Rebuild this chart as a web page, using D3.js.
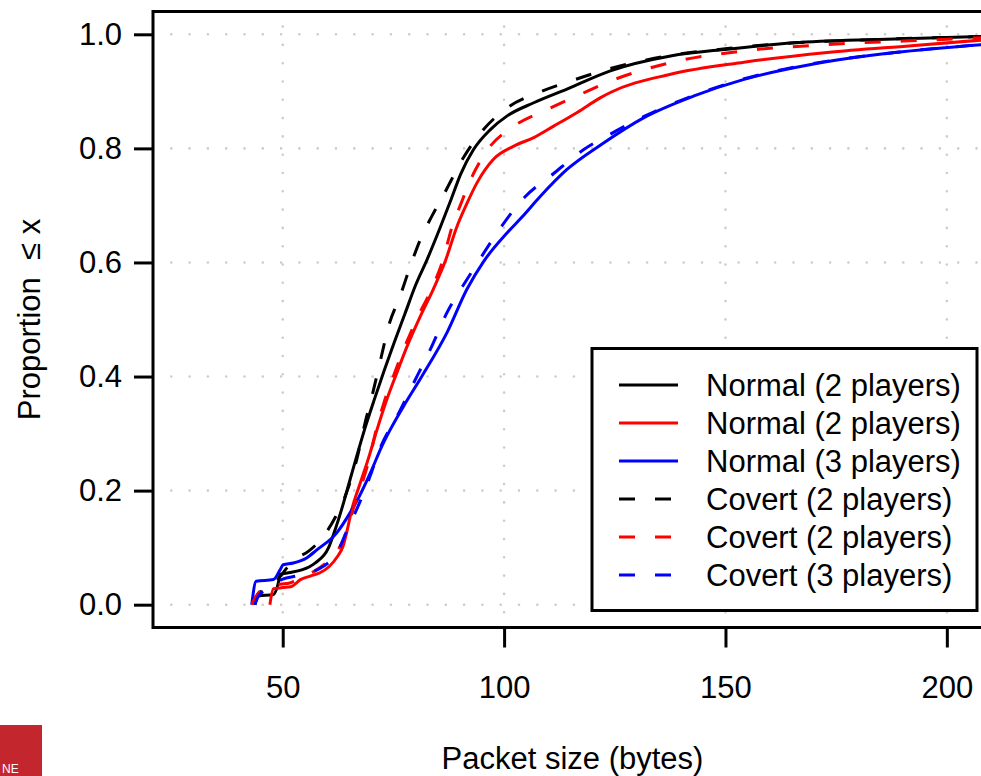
<!DOCTYPE html>
<html>
<head>
<meta charset="utf-8">
<script src="https://cdn.jsdelivr.net/npm/d3@7"></script>
<style>
  html, body { margin: 0; padding: 0; background: #fff; }
  svg { display: block; }
  text { font-family: "Liberation Sans", Arial, Helvetica, sans-serif; }
</style>
</head>
<body>
<svg id="chart" width="981" height="776"></svg>
<script>
// ---- data: [packet size (bytes), proportion <= x] ----
const normal2Black = [[43.7,0],[44.5,0.015],[47.9,0.018],[49,0.038],[49.4,0.053],[51.3,0.056],[54.3,0.061],[57.3,0.073],[60.3,0.099],[61.6,0.126],[63.3,0.167],[65.2,0.219],[66.7,0.26],[68.6,0.31],[70.7,0.36],[72.9,0.41],[75.2,0.46],[77.6,0.51],[80.0,0.56],[82.6,0.605],[85.5,0.66],[88.0,0.71],[90.2,0.755],[93.1,0.798],[96.9,0.833],[100.7,0.857],[106.7,0.88],[114.2,0.904],[124,0.936],[137.6,0.962],[150.4,0.974],[165.5,0.985],[184.4,0.991],[208,0.996]];
const normal2Red = [[47.1,0],[47.9,0.028],[50,0.03],[52,0.032],[54,0.044],[56.2,0.05],[58.4,0.056],[60.5,0.067],[62.4,0.085],[63.6,0.102],[64.6,0.132],[65.6,0.167],[67.5,0.213],[69.5,0.26],[71.3,0.307],[73.3,0.355],[75.7,0.405],[78.2,0.455],[81.1,0.506],[84.0,0.553],[86.7,0.602],[89.4,0.664],[91.4,0.7],[93.9,0.74],[97.6,0.781],[102.2,0.804],[106.7,0.819],[111.2,0.839],[116.5,0.863],[121.8,0.889],[124,0.898],[137.6,0.93],[154.2,0.951],[173,0.968],[192,0.98],[208,0.99]];
const normal3Blue = [[43,0],[44,0.041],[47.9,0.044],[49.4,0.061],[50.1,0.07],[52.4,0.073],[55.4,0.082],[57.7,0.096],[62.2,0.126],[65.2,0.161],[67.3,0.19],[69.8,0.231],[72.4,0.278],[74.5,0.31],[77.3,0.348],[81.4,0.4],[87.1,0.477],[91.6,0.553],[95.4,0.602],[100.7,0.652],[104.1,0.68],[108.2,0.716],[114.2,0.763],[121.8,0.806],[131.6,0.854],[142.9,0.892],[154.2,0.921],[169.3,0.947],[188.2,0.968],[208,0.982]];
const covert2Black = [[43.7,0],[44.5,0.02],[47.5,0.03],[49,0.045],[51,0.065],[52.8,0.08],[55.7,0.093],[59.2,0.12],[62,0.155],[64.1,0.19],[66.7,0.254],[68.6,0.319],[70.3,0.37],[72.3,0.436],[73.9,0.488],[76.5,0.541],[79.2,0.602],[81.4,0.646],[83.6,0.68],[86.3,0.718],[90.9,0.785],[95,0.83],[100.7,0.871],[107.8,0.898],[115,0.918],[124,0.94],[137.6,0.963],[150.4,0.975],[165.5,0.985],[184.4,0.991],[208,0.996]];
const covert2Red = [[43,0],[44,0.015],[46,0.03],[49.4,0.036],[51.6,0.038],[54,0.046],[57,0.058],[60,0.075],[62.5,0.096],[64.5,0.13],[66,0.17],[68,0.215],[69.7,0.26],[71.1,0.307],[72.9,0.355],[75.2,0.405],[77.7,0.455],[80.6,0.506],[83.6,0.553],[86.1,0.602],[88.3,0.664],[90.1,0.7],[93.1,0.756],[96.5,0.8],[102.2,0.839],[109.7,0.868],[117.3,0.895],[124,0.918],[139.1,0.953],[154.2,0.971],[173,0.982],[195.7,0.99],[208,0.994]];
const covert3Blue = [[43.7,0],[44.5,0.015],[46,0.025],[48,0.035],[50,0.045],[53,0.05],[56.2,0.056],[59.1,0.067],[61.2,0.08],[62.6,0.096],[64.5,0.13],[66.7,0.167],[68.5,0.2],[70,0.231],[72.2,0.278],[75.8,0.33],[79.2,0.383],[83.3,0.447],[87.1,0.512],[91.6,0.57],[94.2,0.602],[99.5,0.664],[104.1,0.71],[111.2,0.756],[118,0.798],[123.3,0.822],[131.6,0.856],[142.9,0.893],[154.2,0.922],[169.3,0.948],[188.2,0.968],[208,0.982]];

const seriesData = [normal2Black, normal2Red, normal3Blue, covert2Black, covert2Red, covert3Blue];
const seriesLabels = ["Normal (2 players)", "Normal (2 players)", "Normal (3 players)", "Covert (2 players)", "Covert (2 players)", "Covert (3 players)"];
const seriesColors = ["#000000", "#ff0000", "#0000ff", "#000000", "#ff0000", "#0000ff"];
const seriesDashed = [false, false, false, true, true, true];

const xTicks = [50, 100, 150, 200];
const yTicks = [0, 0.2, 0.4, 0.6, 0.8, 1.0];
const xTitle = "Packet size (bytes)";
const yTitle = "Proportion  \u2264 x";

// ---- layout ----
const svg = d3.select("#chart");
const plot = { left: 153, right: 992, top: 11.5, bottom: 627.5 };
const FONT = 31;

const x = d3.scaleLinear().domain([20.7, 210.2]).range([plot.left, plot.right]);
const y = d3.scaleLinear().domain([-0.04, 1.04]).range([plot.bottom, plot.top]);

// clip
svg.append("defs").append("clipPath").attr("id", "clip")
  .append("rect").attr("x", plot.left).attr("y", plot.top)
  .attr("width", plot.right - plot.left).attr("height", plot.bottom - plot.top);

// grid (dotted)
const grid = svg.append("g").attr("stroke", "#cccccc").attr("stroke-width", 2.6)
  .attr("stroke-linecap", "round").attr("fill", "none");
yTicks.forEach(t => {
  grid.append("line").attr("x1", plot.left).attr("x2", plot.right)
    .attr("y1", y(t)).attr("y2", y(t)).attr("stroke-dasharray", "0 18.3");
});
xTicks.forEach(t => {
  grid.append("line").attr("x1", x(t)).attr("x2", x(t))
    .attr("y1", plot.bottom).attr("y2", plot.top).attr("stroke-dasharray", "0 18.3")
    .attr("stroke-dashoffset", 3);
});

// curves
const line = d3.line().x(d => x(d[0])).y(d => y(d[1])).curve(d3.curveMonotoneX);
const curves = svg.append("g").attr("clip-path", "url(#clip)");
seriesData.forEach((s, i) => {
  curves.append("path").datum(s)
    .attr("d", line)
    .attr("fill", "none")
    .attr("stroke", seriesColors[i])
    .attr("stroke-width", 3)
    .attr("stroke-linejoin", "round")
    .attr("stroke-dasharray", seriesDashed[i] ? "16 20" : null);
});

// frame
svg.append("rect").attr("x", plot.left).attr("y", plot.top)
  .attr("width", plot.right - plot.left).attr("height", plot.bottom - plot.top)
  .attr("fill", "none").attr("stroke", "#000").attr("stroke-width", 3);

// axes
const xAxis = d3.axisBottom(x).tickValues(xTicks).tickSize(20).tickPadding(28)
  .tickFormat(d3.format("d"));
const gx = svg.append("g").attr("transform", `translate(0,${plot.bottom})`).call(xAxis);
gx.select(".domain").remove();
gx.selectAll(".tick line").attr("stroke", "#000").attr("stroke-width", 3);
gx.selectAll(".tick text").attr("font-size", FONT).attr("fill", "#000")
  .attr("font-family", "Liberation Sans, Arial, sans-serif");

const yAxis = d3.axisLeft(y).tickValues(yTicks).tickSize(19).tickPadding(12)
  .tickFormat(d3.format(".1f"));
const gy = svg.append("g").attr("transform", `translate(${plot.left},0)`).call(yAxis);
gy.select(".domain").remove();
gy.selectAll(".tick line").attr("stroke", "#000").attr("stroke-width", 3);
gy.selectAll(".tick text").attr("font-size", FONT).attr("fill", "#000")
  .attr("font-family", "Liberation Sans, Arial, sans-serif");

// titles
svg.append("text").attr("x", (plot.left + plot.right) / 2).attr("y", 769)
  .attr("text-anchor", "middle").attr("font-size", FONT).text(xTitle);
svg.append("text")
  .attr("transform", `translate(40,${(plot.top + plot.bottom) / 2}) rotate(-90)`)
  .attr("text-anchor", "middle").attr("font-size", FONT)
  .style("white-space", "pre").text(yTitle);

// legend
const lg = svg.append("g");
lg.append("rect").attr("x", 592).attr("y", 348.5).attr("width", 385).attr("height", 262)
  .attr("fill", "#fff").attr("stroke", "#000").attr("stroke-width", 3);
seriesLabels.forEach((lab, i) => {
  const yy = 385 + i * 38;
  lg.append("line").attr("x1", 619).attr("x2", 678).attr("y1", yy).attr("y2", yy)
    .attr("stroke", seriesColors[i]).attr("stroke-width", 3)
    .attr("stroke-dasharray", seriesDashed[i] ? "16 20" : null);
  lg.append("text").attr("x", 706).attr("y", yy).attr("dy", "0.35em")
    .attr("font-size", FONT).text(lab);
});

// logo fragment bottom-left
svg.append("rect").attr("x", 0).attr("y", 725).attr("width", 42).attr("height", 51).attr("fill", "#c4262e");
svg.append("text").attr("x", 2).attr("y", 773)
  .attr("font-size", 12).attr("fill", "#fff").text("NE");
</script>
</body>
</html>
